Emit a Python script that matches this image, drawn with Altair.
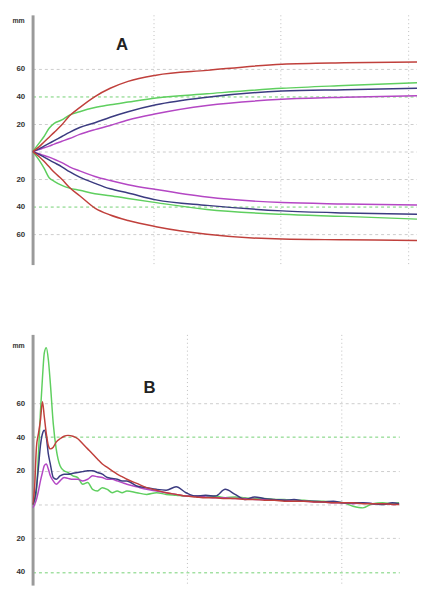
import altair as alt
import pandas as pd

# ---------------- Panel A data ----------------
A_t = [0.05, 0.10, 0.14, 0.18, 0.22, 0.28, 0.34, 0.42, 0.54, 0.66, 0.80, 1.02, 1.42, 2.01, 2.50, 3.07]
A_red_up = [0, 3.5, 7, 10.5, 14, 19.5, 26, 32, 40, 46, 51, 55.5, 59, 63.5, 64.5, 65]
A_green_up = [0, 6, 11, 17, 20.5, 23, 26.5, 29, 32, 34, 36, 39, 42, 46, 48, 50]
A_navy_up = [0, 2, 4, 6, 8, 11, 14, 17.5, 21, 25, 29, 34, 39.5, 44, 45, 46]
A_purple_up = [0, 1.5, 2.8, 4, 5.5, 7.5, 9.5, 12.5, 16, 19, 23, 27.5, 33.5, 38, 39.5, 40.5]
A_purple_dn = [0, -1.5, -2.8, -4, -5.5, -8, -11, -14, -18, -21, -24, -27.5, -33, -37, -38, -38.8]
A_navy_dn = [0, -2, -4, -6, -8, -11, -14.5, -18.5, -23, -27, -30, -35, -39, -43, -44.5, -45.5]
A_green_dn = [0, -6, -12, -19, -21.5, -24.5, -26.5, -28, -30.5, -32, -34, -37, -42, -45.5, -47, -49]
A_red_dn = [0, -3.5, -7, -11, -15, -20, -26, -32, -41, -46, -50, -54.5, -60, -63.5, -64, -64.5]

# ---------------- Panel B data ----------------
B_t = [0.000, 0.013, 0.025, 0.038, 0.051, 0.064, 0.076, 0.089, 0.102, 0.115, 0.134, 0.153,
       0.178, 0.204, 0.229, 0.261, 0.293, 0.325, 0.357, 0.389, 0.420, 0.452, 0.484, 0.516,
       0.548, 0.580, 0.611, 0.675, 0.739, 0.803, 0.866, 0.930, 0.994, 1.057, 1.121, 1.185,
       1.248, 1.312, 1.376, 1.439, 1.503, 1.567, 1.631, 1.694, 1.758, 1.822, 1.885, 1.949,
       2.013, 2.076, 2.140, 2.204, 2.268, 2.331, 2.376]
B_green = [0, 2, 8, 30, 55, 75, 90, 93, 86, 72, 48, 33, 23, 20, 19, 17, 16, 12, 13, 9, 8, 10, 9, 7,
           8, 7, 8, 7, 6, 7, 6, 5.5, 5, 5, 4.5, 5, 4, 4.5, 4, 3.5, 3.5, 3, 3, 2.5, 2.5, 2, 2, 1.5,
           1, -1, -2, 0.5, 1, 0.5, 1]
B_purple = [-2, 0, 3, 8, 14, 19, 23, 24, 21, 17, 14, 12, 14, 16, 15.5, 15, 15, 14, 15, 17, 16.5,
            16, 15, 15, 14, 13, 12, 10.5, 9, 8, 7, 6, 5, 5, 4.5, 4, 4, 3.5, 3.5, 3, 3, 2.5, 2.5,
            2, 2, 1.5, 1.5, 1, 1, 0.5, 1, 0.5, 0.5, 0, 0.5]
B_navy = [0, 3, 10, 22, 35, 42, 44, 40, 30, 24, 16, 15, 17, 18, 18, 18.5, 19, 19.5, 20, 20, 19,
          18, 16, 15.5, 15, 14, 14, 11, 10, 9, 8.5, 10.5, 7, 5, 5.5, 5, 9, 6, 3, 4.5, 3.5, 3,
          2.5, 3, 2, 2, 1.5, 2, 1, 1, 1, 0.5, 0, 1, 0.5]
B_red = [0, 10, 34, 42, 50, 61, 52, 42, 35, 33, 34, 37, 39, 40.5, 41, 40.5, 39, 36, 33, 30, 27,
         24, 22, 20, 18, 16.5, 15, 12.5, 10, 8.5, 7, 6, 5, 4.5, 4, 4, 3.5, 3.5, 3, 3, 2.5, 2.5,
         2, 2, 2, 1.5, 1.5, 1, 1, 1, 0.5, 0.5, 0.5, 0, 0]

COLORS = ["green", "purple", "navy", "red"]
A_RANGE = ["#5fcf5f", "#b447c4", "#3b3b80", "#c0403c"]
B_RANGE = ["#5fcf5f", "#b447c4", "#4a3cb0", "#c8403c"]

rows_a = []
for name, col, vals in [
    ("green_up", "green", A_green_up), ("green_dn", "green", A_green_dn),
    ("purple_up", "purple", A_purple_up), ("purple_dn", "purple", A_purple_dn),
    ("navy_up", "navy", A_navy_up), ("navy_dn", "navy", A_navy_dn),
    ("red_up", "red", A_red_up), ("red_dn", "red", A_red_dn),
]:
    for t, v in zip(A_t, vals):
        rows_a.append({"t": t, "v": v, "curve": name, "color": col})
df_a = pd.DataFrame(rows_a)

rows_b = []
for name, vals in [("green", B_green), ("purple", B_purple), ("navy", B_navy), ("red", B_red)]:
    for t, v in zip(B_t, vals):
        rows_b.append({"t": t, "v": v, "curve": name, "color": name})
df_b = pd.DataFrame(rows_b)

FONT = "Liberation Sans"
GRID_COLOR = {"condition": {"test": "abs(datum.value) == 40", "value": "#72d072"}, "value": "#cccccc"}


def y_axis(vals):
    return alt.Axis(values=vals, labelExpr="datum.value == 0 ? '' : abs(datum.value)",
                    title=None, ticks=False, domainColor="#9a9a9a", domainWidth=3,
                    labelPadding=8, labelFont=FONT, labelFontWeight="bold", labelFontSize=8,
                    labelColor="#333333", grid=True, gridDash=[3, 3], gridColor=GRID_COLOR,
                    gridWidth=1)


def x_axis(vals):
    return alt.Axis(values=vals, grid=True, gridDash=[1, 3], gridColor="#bdbdbd", gridWidth=1,
                    domain=False, ticks=False, labels=False, title=None)


def panel(df, rng, xdom, xgrid, ydom, yvals, w, h, mm_v, title, title_t, title_v):
    x = alt.X("t:Q", scale=alt.Scale(domain=xdom, nice=False, zero=False), axis=x_axis(xgrid))
    y = alt.Y("v:Q", scale=alt.Scale(domain=ydom, nice=False, zero=False), axis=y_axis(yvals))
    lines = alt.Chart(df).mark_line(strokeWidth=1.5, clip=True, interpolate="monotone").encode(
        x=x, y=y, detail="curve:N",
        color=alt.Color("color:N", scale=alt.Scale(domain=COLORS, range=rng), legend=None),
        order=alt.Order("t:Q"),
    )
    mm = alt.Chart(pd.DataFrame({"v": [mm_v], "label": ["mm"]})).mark_text(
        align="right", baseline="middle", fontSize=7, fontWeight="bold", font=FONT, color="#333333"
    ).encode(x=alt.value(-8), y=alt.Y("v:Q"), text="label:N")
    ttl = alt.Chart(pd.DataFrame({"t": [title_t], "v": [title_v], "label": [title]})).mark_text(
        align="center", baseline="middle", fontSize=17, fontWeight="bold", font=FONT, color="#222222"
    ).encode(x=alt.X("t:Q"), y=alt.Y("v:Q"), text="label:N")
    return alt.layer(lines, mm, ttl).properties(width=w, height=h)


chart_a = panel(df_a, A_RANGE, [0.05, 3.07], [1, 2, 3], [-82, 99.3], [-60, -40, -20, 0, 20, 40, 60],
                391, 254, 95, "A", 0.753, 77)
chart_b = panel(df_b, B_RANGE, [0, 2.376], [1, 2], [-47.8, 100.9], [-40, -20, 0, 20, 40, 60],
                373, 255, 94, "B", 0.758, 69)

chart = alt.vconcat(chart_a, chart_b, spacing=71).properties(
    padding={"left": 4, "top": 2, "right": 0, "bottom": 0}
).configure_view(stroke=None)

chart.save("out.html", embed_options={"renderer": "svg", "actions": False})
